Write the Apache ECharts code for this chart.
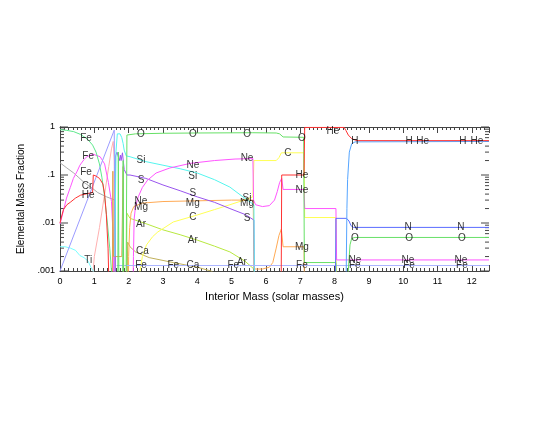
<!DOCTYPE html>
<html>
<head>
<meta charset="utf-8">
<script src="https://cdn.jsdelivr.net/npm/echarts@6/dist/echarts.min.js"></script>
<style>
  html, body { margin: 0; padding: 0; background: #fff; }
  #chart { width: 550px; height: 425px; }
</style>
</head>
<body>
<div id="chart"></div>
<script>
// values below the axis floor (.001) are set to OFF so the line leaves the frame
const OFF = 1e-4

const xTicks = [0, 1, 2, 3, 4, 5, 6, 7, 8, 9, 10, 11, 12]
const yTickLabels = ["1", ".1", ".01", ".001"]

// inner core (iron group)
const fe56 = [[0, 0.88], [0.2, 0.85], [0.4, 0.8], [0.6, 0.7], [0.8, 0.56], [0.95, 0.42], [1.05, 0.3], [1.15, 0.17], [1.22, 0.09], [1.3, 0.035], [1.38, 0.01], [1.45, 0.003], [1.5, 0.001], [1.55, OFF]]
const fe54 = [[0, 0.0095], [0.1, 0.018], [0.19, 0.033], [0.3, 0.055], [0.39, 0.085], [0.5, 0.12], [0.58, 0.16], [0.7, 0.21], [0.78, 0.24], [0.97, 0.27], [1.17, 0.24], [1.3, 0.17], [1.41, 0.07], [1.5, 0.028], [1.55, 0.005], [1.57, OFF]]
const ni56 = [[0, 0.001], [1.58, 0.86], [1.61, 0.86], [1.62, OFF]]
const cr = [[0, 0.18], [0.2, 0.14], [0.4, 0.11], [0.55, 0.088], [0.7, 0.07], [0.9, 0.056], [1.1, 0.043], [1.36, 0.035], [1.6, 0.03], [1.62, OFF]]
const ti = [[0, 0.0032], [0.15, 0.0032], [0.3, 0.003], [0.45, 0.0027], [0.58, 0.0021], [0.7, 0.0019], [0.82, 0.0016], [0.9, 0.0012], [0.97, 0.001], [1.05, OFF]]
const spikes = [[0.85, OFF], [1.0, 0.002], [1.15, 0.008], [1.3, 0.04], [1.42, 0.15], [1.5, 0.35], [1.55, 0.5], [1.58, 0.2], [1.6, OFF]]
const mgSpike = [[1.52, OFF], [1.54, 0.12], [1.56, 0.002], [1.8, 0.002], [1.84, 0.15], [1.86, OFF]]

// oxygen / silicon shells
const si = [[1.6, 0.002], [1.63, 0.3], [1.67, 0.72], [1.75, 0.72], [1.8, 0.6], [1.84, 0.45], [1.87, 0.33], [1.93, 0.25], [2.04, 0.24], [2.5, 0.19], [3, 0.16], [3.5, 0.135], [4, 0.11], [4.5, 0.08], [4.95, 0.056], [5.33, 0.035], [5.65, 0.024], [5.67, OFF]]
const s = [[1.6, OFF], [1.62, 0.25], [1.66, 0.3], [1.7, 0.29], [1.73, 0.2], [1.76, 0.26], [1.78, 0.2], [1.82, 0.29], [1.87, 0.13], [1.95, 0.1], [2.04, 0.1], [2.5, 0.085], [3, 0.062], [3.5, 0.047], [4, 0.035], [4.5, 0.027], [4.95, 0.02], [5.4, 0.015], [5.65, 0.0115], [5.67, OFF]]
const o = [[1.68, OFF], [1.7, 0.3], [1.72, OFF], [1.82, OFF], [1.84, 0.2], [1.86, OFF], [1.92, OFF], [1.95, 0.68], [2.2, 0.72], [3, 0.74], [4, 0.75], [5.6, 0.76], [6.3, 0.75], [6.4, 0.72], [6.5, 0.62], [7.1, 0.61], [7.12, 0.0015], [8.04, 0.0015], [8.06, OFF], [8.36, OFF], [8.4, 0.001], [8.45, 0.0035], [8.5, 0.0048], [8.6, 0.005], [12.5, 0.005]]
const ne = [[2.12, OFF], [2.14, 0.002], [2.16, 0.012], [2.2, 0.022], [2.28, 0.035], [2.4, 0.055], [2.55, 0.078], [2.8, 0.11], [3.2, 0.14], [3.8, 0.175], [4.5, 0.2], [5.1, 0.215], [5.62, 0.22], [5.64, 0.03], [5.7, 0.024], [5.9, 0.022], [6.1, 0.023], [6.25, 0.03], [6.33, 0.045], [6.4, 0.07], [6.46, 0.085], [6.5, 0.05], [7.11, 0.05], [7.13, 0.02], [8.04, 0.02], [8.06, 0.0017], [12.5, 0.0017]]
const mg = [[1.98, OFF], [2.0, 0.002], [2.03, 0.008], [2.07, 0.016], [2.15, 0.022], [2.4, 0.026], [3, 0.028], [4, 0.029], [5, 0.03], [5.63, 0.03], [5.65, 0.0011], [5.9, 0.0011], [6.1, 0.0012], [6.2, 0.0015], [6.3, 0.003], [6.38, 0.0055], [6.45, 0.0075], [6.5, 0.0032], [7.11, 0.0032], [7.13, OFF]]
const c = [[2.3, OFF], [2.33, 0.001], [2.4, 0.002], [2.52, 0.0035], [2.7, 0.0052], [2.85, 0.0065], [3.3, 0.0105], [4, 0.0147], [4.5, 0.019], [4.95, 0.024], [5.3, 0.029], [5.62, 0.035], [5.65, 0.2], [6.3, 0.2], [6.38, 0.23], [6.45, 0.29], [7.11, 0.29], [7.13, 0.013], [8.04, 0.013], [8.06, OFF]]
const ar = [[1.93, OFF], [1.95, 0.016], [2.04, 0.0125], [2.5, 0.0097], [3, 0.0072], [3.5, 0.0057], [4, 0.0044], [4.5, 0.0033], [4.95, 0.0025], [5.39, 0.0016], [5.65, 0.0011], [5.67, OFF]]
const ca = [[1.95, OFF], [1.97, 0.004], [2.04, 0.0032], [2.2, 0.0025], [2.6, 0.0019], [3.3, 0.0015], [4, 0.0012], [4.4, 0.001], [4.6, 0.0008]]
const fe = [[1.65, 0.0013], [12.5, 0.0013]]

// envelope
const he = [[0, 0.01], [0.05, 0.014], [0.1, 0.019], [0.2, 0.024], [0.3, 0.027], [0.45, 0.033], [0.6, 0.038], [0.8, 0.041], [0.95, 0.043], [0.97, 0.1], [1.05, 0.095], [1.15, 0.085], [1.25, 0.065], [1.3, 0.04], [1.35, 0.015], [1.4, 0.003], [1.45, OFF], [6.44, OFF], [6.46, 0.1], [7.11, 0.1], [7.13, 0.98], [8.28, 0.98], [8.33, 0.85], [8.4, 0.68], [8.5, 0.57], [8.65, 0.52], [12.5, 0.52]]
const h = [[8.3, OFF], [8.34, 0.001], [8.36, 0.02], [8.38, 0.08], [8.43, 0.3], [8.5, 0.45], [8.6, 0.49], [12.5, 0.5]]
const n = [[8.02, OFF], [8.04, 0.0125], [8.35, 0.0125], [8.42, 0.011], [8.48, 0.0088], [8.55, 0.0081], [12.5, 0.0081]]

// species labels written on the plot
const labelText = ["Fe", "Fe", "Fe", "Cr", "He", "Ti",
  "O", "O", "O", "Si", "Si", "Ne", "Ne", "S", "S", "S", "Si", "Mg",
  "Ne", "Mg", "Mg", "C", "Ar", "Ar", "Ar", "Ca", "Ca",
  "Fe", "Fe", "Fe",
  "C", "O", "He", "Ne", "Mg", "Fe", "He",
  "H", "H", "He", "H", "He",
  "N", "N", "N", "O", "O", "O", "Ne", "Ne", "Ne", "Fe", "Fe", "Fe"]
const labelX = [0.76, 0.82, 0.76, 0.79, 0.82, 0.82,
  2.36, 3.87, 5.45, 2.36, 3.87, 3.87, 5.45, 2.36, 3.87, 5.45, 5.45, 5.45,
  2.36, 2.36, 3.87, 3.87, 2.36, 3.87, 5.3, 2.4, 3.87,
  2.36, 3.3, 5.05,
  6.64, 7.05, 7.05, 7.05, 7.05, 7.05, 7.95,
  8.59, 10.17, 10.57, 11.74, 12.15,
  8.59, 10.14, 11.68, 8.59, 10.17, 11.71, 8.59, 10.14, 11.68, 8.59, 10.17, 11.71]
const labelY = [0.59, 0.25, 0.116, 0.059, 0.037, 0.0017,
  0.72, 0.72, 0.72, 0.205, 0.095, 0.16, 0.226, 0.078, 0.042, 0.0127, 0.033, 0.026,
  0.028, 0.021, 0.026, 0.0133, 0.0096, 0.0044, 0.0015, 0.0026, 0.0013,
  0.0013, 0.0013, 0.0013,
  0.29, 0.59, 0.1, 0.049, 0.0032, 0.0013, 0.82,
  0.51, 0.51, 0.5, 0.51, 0.5,
  0.0083, 0.0083, 0.0083, 0.0049, 0.0049, 0.0049, 0.0017, 0.0017, 0.0017, 0.0013, 0.0013, 0.0013]

// log axis ticks: decades get long marks, 2..9 in each decade short ones
const yMajorTicks = [0.001, 0.01, 0.1, 1]
const yMinorTicks = []
for (let d = 0.001; d < 1; d *= 10) {
  for (let k = 2; k <= 9; k++) yMinorTicks.push(+(d * k).toPrecision(3))
}

const speciesLines = [
  ["spikes", spikes, "#ffb0b0"],
  ["cr", cr, "#aaaaaa"],
  ["ti", ti, "#77ffff"],
  ["fe54", fe54, "#ff55ff"],
  ["fe56", fe56, "#5ee88c"],
  ["ni56", ni56, "#9b9bff"],
  ["mgSpike", mgSpike, "#e0a050"],
  ["ca", ca, "#c0b05a"],
  ["ar", ar, "#b8e840"],
  ["c", c, "#ffff55"],
  ["mg", mg, "#ffaa55"],
  ["s", s, "#9955ee"],
  ["si", si, "#55f5ee"],
  ["ne", ne, "#ff55ff"],
  ["fe", fe, "#aab4ff"],
  ["o", o, "#66e066"],
  ["n", n, "#5a6cff"],
  ["h", h, "#55a5ff"],
  ["he", he, "#ff3333"]
]

const FONT = "Liberation Sans"
const AXIS = "#444"
const chart = echarts.init(document.getElementById("chart"), null, { renderer: "canvas" })

const baseX = {
  type: "value",
  min: 0,
  max: 12.5,
  interval: 1,
  axisLine: { lineStyle: { color: AXIS, width: 1 } },
  axisTick: { inside: true, length: 6, lineStyle: { color: AXIS } },
  minorTick: { show: true, splitNumber: 8, length: 3, lineStyle: { color: AXIS } },
  splitLine: { show: false }
}
const baseY = {
  type: "log",
  logBase: 10,
  min: 0.001,
  max: 1,
  axisLine: { show: true, lineStyle: { color: AXIS, width: 1 } },
  axisTick: { show: false },
  minorTick: { show: false },
  splitLine: { show: false }
}

function tickSeries(name, values, len) {
  return {
    type: "custom",
    name,
    silent: true,
    clip: false,
    data: values.map((v) => [0, v]),
    renderItem: (params, api) => {
      const v = api.value(1)
      const l = api.coord([0, v])
      const r = api.coord([12.5, v])
      const style = { stroke: AXIS, lineWidth: 1 }
      return {
        type: "group",
        children: [
          { type: "line", shape: { x1: l[0], y1: l[1], x2: l[0] + len, y2: l[1] }, style },
          { type: "line", shape: { x1: r[0] - len, y1: r[1], x2: r[0], y2: r[1] }, style }
        ]
      }
    }
  }
}

chart.setOption({
  animation: false,
  textStyle: { fontFamily: FONT },
  grid: { left: 60, right: 61, top: 127, bottom: 154 },
  xAxis: [
    Object.assign({}, baseX, {
      position: "bottom",
      name: "Interior Mass (solar masses)",
      nameLocation: "middle",
      nameGap: 20,
      nameTextStyle: { color: "#000", fontSize: 11, fontFamily: FONT },
      axisLabel: { color: "#000", fontSize: 9, margin: 6, showMaxLabel: false, fontFamily: FONT,
        formatter: (v) => (xTicks.includes(v) ? String(v) : "") }
    }),
    Object.assign({}, baseX, { position: "top", axisLabel: { show: false } })
  ],
  yAxis: [
    Object.assign({}, baseY, {
      position: "left",
      name: "Elemental Mass Fraction",
      nameLocation: "middle",
      nameGap: 32,
      nameTextStyle: { color: "#000", fontSize: 10, fontFamily: FONT },
      axisLabel: { color: "#000", fontSize: 9, margin: 5, fontFamily: FONT,
        formatter: (v) => yTickLabels[Math.round(-Math.log10(v))] }
    }),
    Object.assign({}, baseY, { position: "right", axisLabel: { show: false } })
  ],
  series: [
    ...speciesLines.map(([name, data, color]) => ({
      name,
      type: "line",
      data,
      showSymbol: false,
      symbol: "none",
      clip: true,
      lineStyle: { color, width: 1 },
      emphasis: { disabled: true }
    })),
    tickSeries("yMajor", yMajorTicks, 8),
    tickSeries("yMinor", yMinorTicks, 4),
    {
      type: "scatter",
      name: "labels",
      silent: true,
      symbolSize: 0,
      z: 5,
      data: labelText.map((t, i) => ({ name: t, value: [labelX[i], labelY[i]] })),
      label: {
        show: true,
        position: "inside",
        formatter: (p) => p.name,
        color: "#000",
        fontSize: 10,
        fontFamily: FONT
      }
    }
  ]
})
</script>
</body>
</html>
